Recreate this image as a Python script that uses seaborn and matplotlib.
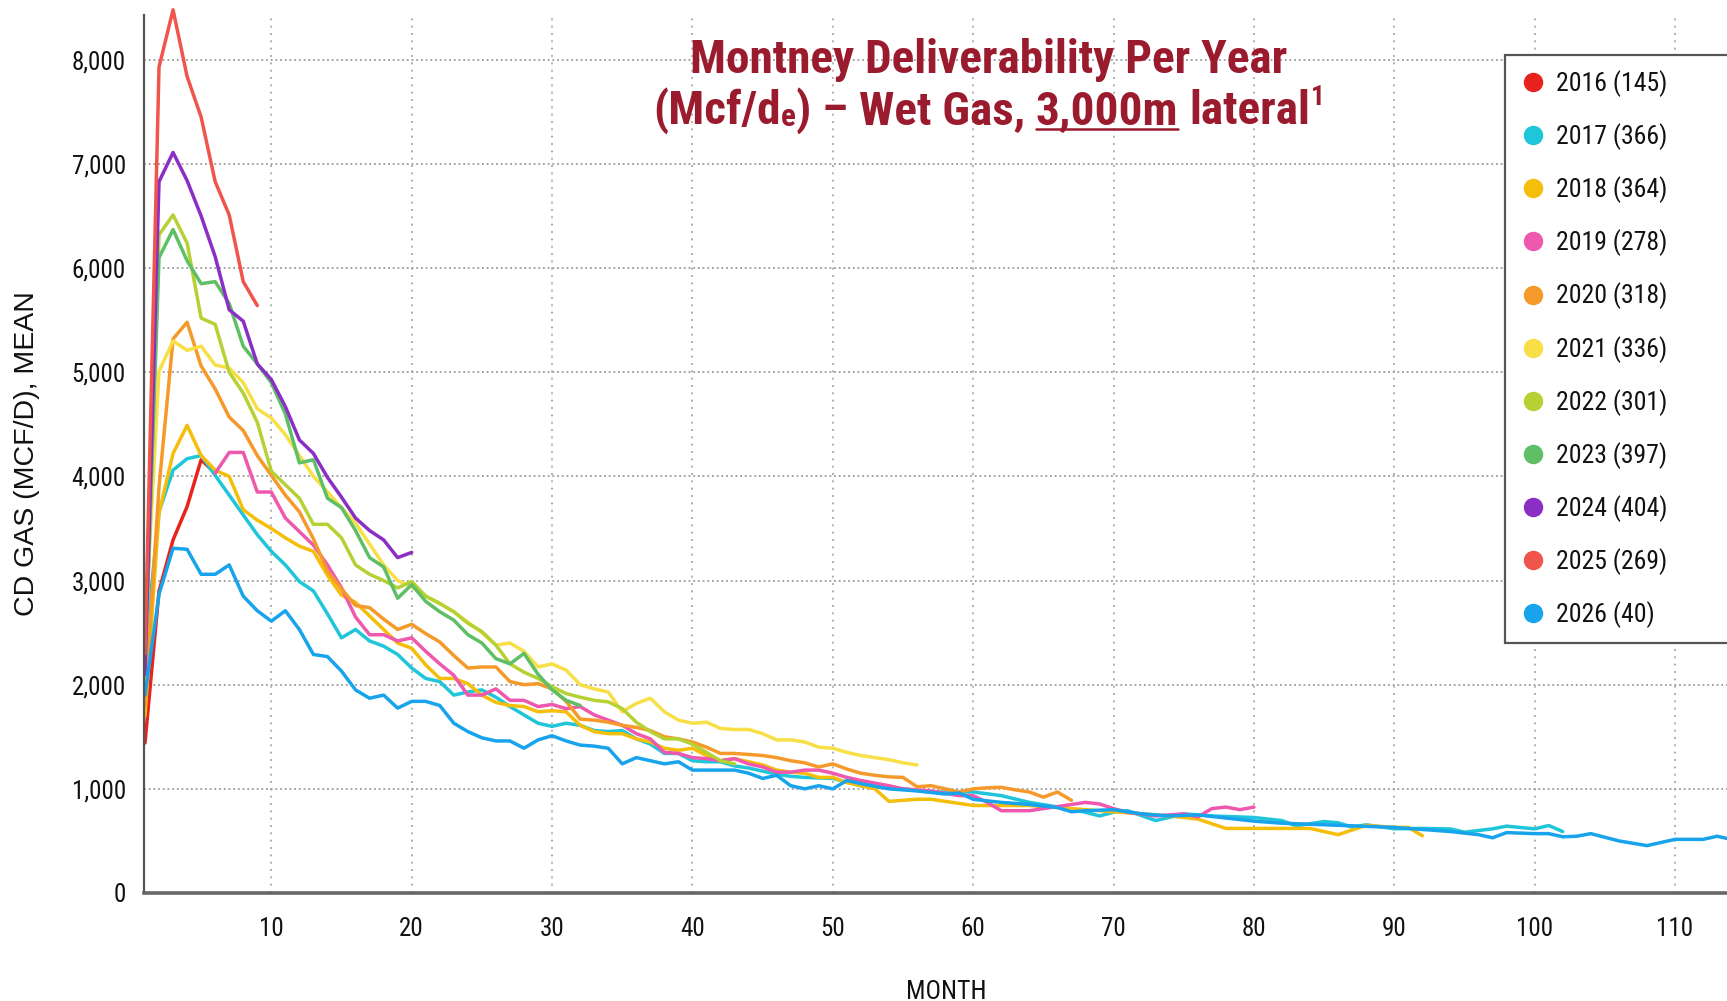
import matplotlib
matplotlib.use("Agg")
import matplotlib.pyplot as plt
from matplotlib import font_manager
from matplotlib.lines import Line2D
from matplotlib.ticker import FuncFormatter
import seaborn as sns
import pandas as pd

# -----------------------------
# data
# -----------------------------
labels = ["2016 (145)", "2017 (366)", "2018 (364)", "2019 (278)", "2020 (318)", "2021 (336)",
          "2022 (301)", "2023 (397)", "2024 (404)", "2025 (269)", "2026 (40)"]
colors = ["#E8231D", "#1FC6DA", "#F4BE0A", "#EE58AE", "#F59A2A", "#F7DF45",
          "#B6D133", "#5FBF66", "#8A2EC4", "#F0554C", "#18A4EC"]

v2016 = [1440, 2900, 3390, 3710, 4160, 4030]
m2016 = list(range(1, 7))

v2017 = [2300, 3660, 4060, 4170, 4200, 4010, 3820, 3630, 3440, 3280, 3150, 2990, 2900, 2680, 2450,
         2530, 2420, 2370, 2290, 2160, 2060, 2030, 1900, 1930, 1950, 1880, 1790, 1710, 1630, 1600,
         1630, 1610, 1560, 1550, 1560, 1480, 1430, 1340, 1340, 1270, 1260, 1260, 1220, 1200, 1170,
         1140, 1120, 1110,
         1100, 1030, 1000, 970, 970, 935, 870, 805, 775, 740, 775, 790, 695, 760, 740, 725, 695, 645,
         686, 674, 632, 655, 616, 620, 615, 584, 616, 642, 616, 648, 590]
m2017 = list(range(1, 49)) + [50, 52, 55, 57, 60, 62, 64, 67, 68, 69, 70, 71, 73, 75, 77, 80, 82, 83,
                              85, 86, 87, 88, 90, 92, 94, 95, 97, 98, 100, 101, 102]

v2018 = [1700, 3650, 4220, 4490, 4200, 4060, 4000, 3680, 3580, 3500, 3410, 3330, 3280, 3050, 2860,
         2790, 2660, 2530, 2400, 2350, 2190, 2060, 2060, 2010, 1900, 1830, 1800, 1790, 1740, 1750,
         1740, 1610, 1550, 1530, 1530, 1480, 1450, 1390, 1370, 1390, 1320, 1270, 1290, 1260, 1230,
         1180, 1160, 1150, 1110, 1110, 1060, 1030, 1000,
         880, 890, 900, 900, 880, 840, 840, 840, 820, 800, 780, 760, 740, 710, 620, 620, 620, 620,
         560, 650, 630, 630, 550]
m2018 = list(range(1, 54)) + [54, 55, 56, 57, 58, 60, 62, 64, 66, 68, 70, 72, 74, 76, 78, 80, 82, 84,
                              86, 88, 90, 91, 92]

v2019 = [4030, 4230, 4230, 3850, 3850, 3600, 3470, 3340, 3150, 2930, 2650, 2480, 2480, 2420, 2450,
         2320, 2200, 2090, 1900, 1900, 1960, 1850, 1850, 1790, 1810, 1770, 1790, 1710, 1660, 1610,
         1530, 1480, 1350, 1340, 1300, 1290, 1270, 1290, 1240, 1210, 1160, 1160, 1180, 1180, 1150,
         1110, 1080,
         1030, 1000, 980, 935, 935, 870, 790, 790, 830, 870, 855, 810, 775, 740, 760, 730, 810, 825,
         800, 825]
m2019 = list(range(6, 53)) + [54, 55, 57, 59, 60, 61, 62, 64, 66, 68, 69, 70, 71, 73, 75, 76, 77, 78,
                              79, 80]

v2020 = [1800, 3900, 5320, 5480, 5060, 4840, 4570, 4440, 4200, 4010, 3820, 3660, 3400, 3090, 2920,
         2760, 2740, 2630, 2530, 2580, 2490, 2410, 2280, 2160, 2170, 2170, 2030, 2000, 2010, 1960,
         1840, 1670, 1660, 1640, 1610, 1590, 1560, 1500, 1480, 1450, 1400, 1340, 1340, 1330, 1320,
         1300, 1270, 1250, 1210, 1240, 1190, 1150, 1130, 1115, 1110, 1020, 1030, 1000, 970, 1000,
         1010, 1015, 990, 970, 920, 970, 890]
m2020 = list(range(1, len(v2020) + 1))

v2021 = [2500, 5010, 5300, 5210, 5250, 5070, 5040, 4900, 4650, 4560, 4400, 4200, 4000, 3850, 3700,
         3550, 3350, 3150, 3000, 2940, 2850, 2780, 2700, 2600, 2500, 2380, 2400, 2320, 2170, 2200,
         2140, 2000, 1960, 1930, 1740, 1820, 1870, 1740, 1660, 1630, 1640, 1580, 1570, 1570, 1530,
         1470, 1470, 1450, 1400, 1390, 1350, 1320, 1300, 1280, 1250, 1230]
m2021 = list(range(1, len(v2021) + 1))

v2022 = [2000, 6320, 6510, 6240, 5520, 5460, 5000, 4800, 4520, 4050, 3920, 3790, 3540, 3540, 3410,
         3150, 3060, 3000, 2930, 2990, 2850, 2780, 2700, 2590, 2510, 2380, 2200, 2120, 2060, 1980,
         1915, 1880, 1850, 1835, 1770, 1640, 1550, 1480, 1480, 1430, 1350, 1270, 1240]
m2022 = list(range(1, len(v2022) + 1))

v2023 = [2200, 6100, 6370, 6070, 5850, 5870, 5660, 5250, 5080, 4900, 4600, 4130, 4160, 3790, 3700,
         3480, 3220, 3130, 2830, 2960, 2800, 2700, 2620, 2480, 2400, 2250, 2200, 2300, 2100, 1950,
         1850, 1800]
m2023 = list(range(1, len(v2023) + 1))

v2024 = [2100, 6830, 7110, 6840, 6500, 6110, 5600, 5490, 5080, 4930, 4670, 4350, 4220, 3990, 3800,
         3600, 3480, 3390, 3220, 3270]
m2024 = list(range(1, len(v2024) + 1))

v2025 = [2300, 7930, 8480, 7840, 7450, 6830, 6510, 5870, 5640]
m2025 = list(range(1, len(v2025) + 1))

v2026 = [1900, 2870, 3310, 3300, 3060, 3060, 3150, 2850, 2710, 2610, 2710, 2530, 2290, 2270, 2130,
         1950, 1870, 1900, 1775, 1840, 1840, 1800, 1630, 1550, 1490, 1460, 1460, 1390, 1470, 1510,
         1460, 1420, 1410, 1390, 1240, 1300, 1270, 1240, 1260, 1180, 1180, 1180, 1180, 1150, 1100,
         1130, 1030, 1000, 1030, 1000, 1080,
         1050, 1000, 980, 950, 960, 900, 870, 850, 820, 780, 790, 800, 760, 740, 750, 720, 690, 670,
         660, 650, 640, 630, 610, 590, 560, 530, 580, 570, 570, 540, 545, 570, 500, 455, 515, 515,
         545, 515]
m2026 = list(range(1, 52)) + [52, 54, 56, 58, 59, 60, 62, 64, 66, 67, 68, 70, 72, 74, 76, 78, 80, 82,
                              84, 86, 88, 90, 92, 94, 96, 97, 98, 100, 101, 102, 103, 104, 106, 108,
                              110, 112, 113, 114]

months = [m2016, m2017, m2018, m2019, m2020, m2021, m2022, m2023, m2024, m2025, m2026]
values = [v2016, v2017, v2018, v2019, v2020, v2021, v2022, v2023, v2024, v2025, v2026]

y_ticks = [0, 1000, 2000, 3000, 4000, 5000, 6000, 7000, 8000]
x_ticks = [10, 20, 30, 40, 50, 60, 70, 80, 90, 100, 110]

# long table for seaborn
df = pd.concat(
    [pd.DataFrame({"month": m, "value": v, "year": lab}) for lab, m, v in zip(labels, months, values)],
    ignore_index=True,
)

# -----------------------------
# fonts
# -----------------------------
sns.set_style("white")
_names = {f.name for f in font_manager.fontManager.ttflist}
COND = "Roboto Condensed" if "Roboto Condensed" in _names else "Roboto"
plt.rcParams["font.family"] = [COND, "DejaVu Sans"]

TITLE_COLOR = "#9B1B2E"
FIG_W, FIG_H = 1727, 1001

fig = plt.figure(figsize=(FIG_W / 100, FIG_H / 100), dpi=100)
ax = fig.add_axes([144 / FIG_W, 108 / FIG_H, 1 - 144 / FIG_W, 878 / FIG_H])

sns.lineplot(data=df, x="month", y="value", hue="year", hue_order=labels,
             palette=dict(zip(labels, colors)), estimator=None, linewidth=2.5,
             legend=False, ax=ax)
for ln in ax.lines:
    ln.set_clip_on(False)
    ln.set_solid_joinstyle("round")

ax.set_xlim(0.93, 113.7)
ax.set_ylim(0, 8430)
ax.set_xticks(x_ticks)
ax.set_yticks(y_ticks)
ax.yaxis.set_major_formatter(FuncFormatter(lambda v, p: f"{int(v):,}"))

ax.grid(axis="y", color="#9a9a9a", linestyle=(0, (1, 1.6)), linewidth=1.3)
ax.grid(axis="x", color="#a5a5a5", linestyle=(0, (1.2, 3.2)), linewidth=1.2)
ax.set_axisbelow(True)

sns.despine(ax=ax)
ax.spines["left"].set_color("#555555")
ax.spines["left"].set_linewidth(1.6)
ax.spines["bottom"].set_color("#666666")
ax.spines["bottom"].set_linewidth(2.6)

ax.tick_params(axis="y", length=7, width=1.5, color="#555555", pad=6, labelsize=18, labelcolor="#111111")
ax.tick_params(axis="x", length=5, width=1.0, color="#777777", pad=12, labelsize=18, labelcolor="#111111")

ax.set_ylabel("CD GAS (MCF/D), MEAN", fontsize=20.5, family=["Liberation Sans", "DejaVu Sans"],
              color="#111111")
ax.yaxis.label.set_va("center")
ax.yaxis.set_label_coords(-0.0736, 0.5)
ax.set_xlabel("MONTH", fontsize=18.5, color="#111111")
ax.xaxis.label.set_va("center")
ax.xaxis.set_label_coords(0.507, -0.113)

# legend: dots, frame runs off the right edge like the reference
handles = [Line2D([], [], marker="o", linestyle="", markersize=13, color=c) for c in colors]
leg = ax.legend(handles, labels, loc="upper left", mode="expand",
                bbox_to_anchor=(1505 / FIG_W, 0.30, 0.2, 1 - 55 / FIG_H - 0.30),
                bbox_transform=fig.transFigure, fontsize=18.5, frameon=True, fancybox=False,
                framealpha=1, edgecolor="#555555", borderpad=0.6, labelspacing=1.02,
                handlelength=1.0, handletextpad=0.4, borderaxespad=0)
leg.get_frame().set_linewidth(1.6)
for t in leg.get_texts():
    t.set_color("#111111")

# -----------------------------
# title, built from pieces
# -----------------------------
TITLE_SIZE = 34
fig.text(989 / FIG_W, 1 - 73 / FIG_H, "Montney Deliverability Per Year", ha="center", va="baseline",
         fontsize=TITLE_SIZE, fontweight="bold", color=TITLE_COLOR)

fig.canvas.draw()
renderer = fig.canvas.get_renderer()
base_y = 1 - 124 / FIG_H


def width_of(s, size):
    t = fig.text(0, 0, s, fontsize=size, fontweight="bold")
    w = t.get_window_extent(renderer).width
    t.remove()
    return w


space = width_of("M M", TITLE_SIZE) - width_of("MM", TITLE_SIZE)
pieces = [
    ("(Mcf/d", TITLE_SIZE, 0, 0),
    ("e", TITLE_SIZE * 0.66, -2, 0),
    (")", TITLE_SIZE, 0, 0),
    ("–", TITLE_SIZE, 0, space),
    ("Wet Gas,", TITLE_SIZE, 0, space),
    ("3,000m", TITLE_SIZE, 0, space),
    ("lateral", TITLE_SIZE, 0, space),
    ("1", TITLE_SIZE * 0.58, 19, 1),
]
widths = [width_of(s, sz) for s, sz, _, _ in pieces]
total = sum(widths) + sum(p[3] for p in pieces)
x = 989 - total / 2
for (s, sz, dy, gap), w in zip(pieces, widths):
    x += gap
    fig.text(x / FIG_W, base_y + dy / FIG_H, s, ha="left", va="baseline", fontsize=sz,
             fontweight="bold", color=TITLE_COLOR)
    if s == "3,000m":
        fig.add_artist(Line2D([x / FIG_W, (x + w) / FIG_W], [base_y - 5 / FIG_H] * 2,
                              transform=fig.transFigure, color=TITLE_COLOR, linewidth=1.8))
    x += w

fig.savefig("out.png", dpi=100)
